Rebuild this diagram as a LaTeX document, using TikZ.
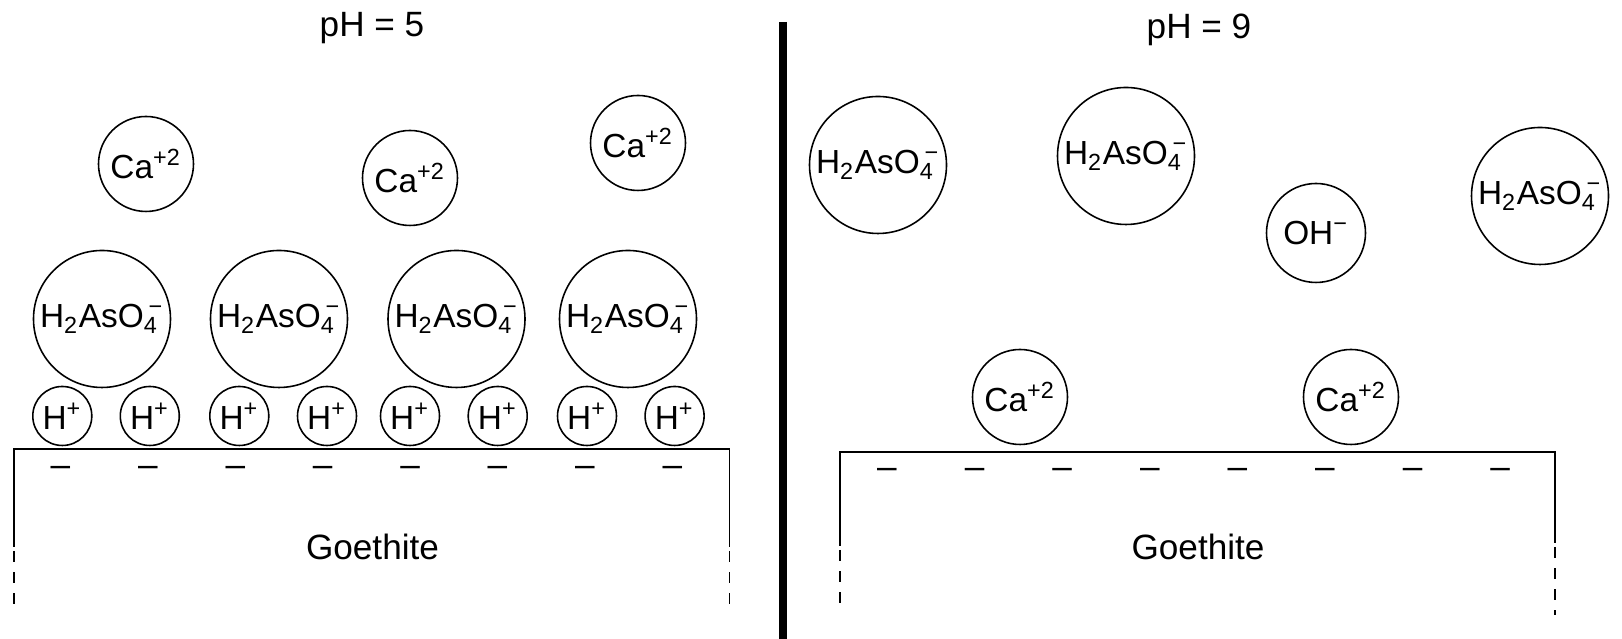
\documentclass[tikz,border=0pt]{standalone}
\usepackage{fontspec}
\setmainfont{Liberation Sans}
\usepackage{tikz}

\newcommand{\arsenate}{H\textsubscript{2}AsO\textsubscript{4}\kern-0.3em\textsuperscript{−}}

\begin{document}
\begin{tikzpicture}[
  ion/.style={circle, draw, line width=0.45pt, inner sep=0pt, font=\fontsize{9.5}{11}\selectfont},
  ca/.style={ion, minimum size=0.95cm},
  ars/.style={ion, minimum size=1.37cm},
  hion/.style={ion, minimum size=0.59cm},
  oh/.style={ion, minimum size=0.99cm},
  title/.style={font=\fontsize{10}{12}\selectfont},
  charge/.style={font=\fontsize{10}{12}\selectfont, inner sep=0pt},
  wall/.style={line width=0.5pt},
  broken/.style={line width=0.5pt, dash pattern=on 3pt off 3pt}
]
\useasboundingbox (0,0) rectangle (16.22,6.39);

% Divider between the two cases
\draw[line width=2.3pt] (7.83,6.17) -- (7.83,0);

% pH = 5
\node[title] (ph5) at (3.72,6.11) {pH = 5};

\node[ca] (ca1) at (1.46,4.75) {Ca\textsuperscript{+2}};
\node[ca] (ca2) at (4.10,4.61) {Ca\textsuperscript{+2}};
\node[ca] (ca3) at (6.38,4.96) {Ca\textsuperscript{+2}};

\node[ars] (ars1) at (1.02,3.20) {\arsenate};
\node[ars] (ars2) at (2.79,3.20) {\arsenate};
\node[ars] (ars3) at (4.565,3.20) {\arsenate};
\node[ars] (ars4) at (6.28,3.20) {\arsenate};

\node[hion] (h1) at (0.623,2.23) {H\textsuperscript{+}};
\node[hion] (h2) at (1.498,2.23) {H\textsuperscript{+}};
\node[hion] (h3) at (2.393,2.23) {H\textsuperscript{+}};
\node[hion] (h4) at (3.27,2.23) {H\textsuperscript{+}};
\node[hion] (h5) at (4.10,2.23) {H\textsuperscript{+}};
\node[hion] (h6) at (4.977,2.23) {H\textsuperscript{+}};
\node[hion] (h7) at (5.87,2.23) {H\textsuperscript{+}};
\node[hion] (h8) at (6.746,2.23) {H\textsuperscript{+}};

% Goethite surface, left
\draw[wall] (0.14,0.92) |- (7.295,1.90) -- (7.295,0.92);
\draw[broken] (0.14,0.88) -- (0.14,0.31);
\draw[broken] (7.295,0.88) -- (7.295,0.28);
\foreach \x in {0.605,1.479,2.353,3.227,4.101,4.975,5.849,6.723}
  \node[charge] at (\x,1.68) {–};
\node[title] (goe1) at (3.725,0.92) {Goethite};

% pH = 9
\node[title] (ph9) at (11.99,6.09) {pH = 9};

\node[ars] (ars5) at (8.78,4.74) {\arsenate};
\node[ars] (ars6) at (11.26,4.83) {\arsenate};
\node[ars] (ars7) at (15.40,4.43) {\arsenate};
\node[oh] (oh1) at (13.16,4.06) {OH\textsuperscript{−}};

\node[ca] (ca4) at (10.20,2.42) {Ca\textsuperscript{+2}};
\node[ca] (ca5) at (13.51,2.42) {Ca\textsuperscript{+2}};

% Goethite surface, right
\draw[wall] (8.40,0.93) |- (15.55,1.87) -- (15.55,0.96);
\draw[broken] (8.40,0.89) -- (8.40,0.27);
\draw[broken] (15.55,0.92) -- (15.55,0.24);
\foreach \x in {8.87,9.746,10.622,11.498,12.374,13.25,14.126,15.002}
  \node[charge] at (\x,1.66) {–};
\node[title] (goe2) at (11.98,0.92) {Goethite};
\end{tikzpicture}
\end{document}
